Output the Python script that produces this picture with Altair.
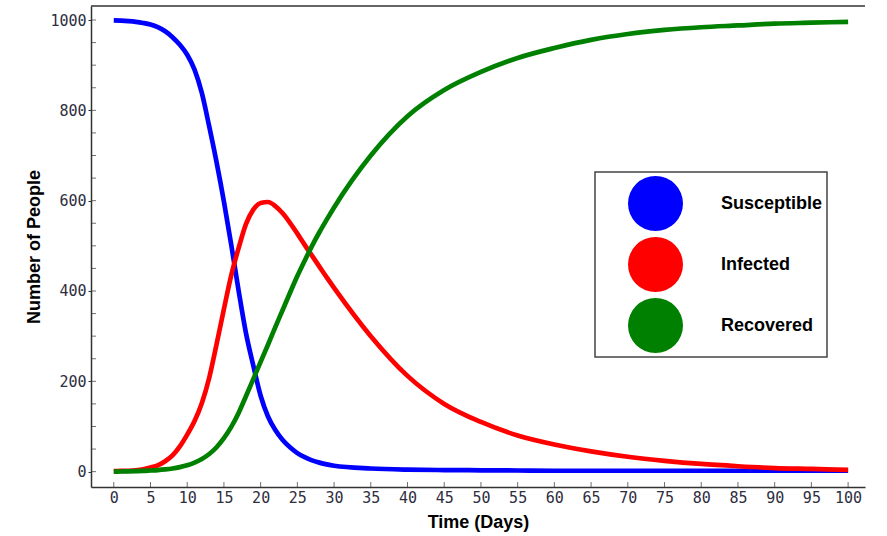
import altair as alt
import pandas as pd

# ---- data ----
days = list(range(0, 31)) + [35, 40, 45, 50, 55, 60, 65, 70, 75, 80, 85, 90, 95, 100]

susceptible = [999, 998.5, 997.5, 996, 993.5, 990, 984, 975, 962, 945,
               923, 890, 838, 764, 685, 598, 502, 401, 307, 235,
               168, 122, 92, 70, 54, 41, 32, 25, 20, 16,
               13,
               7, 4.5, 3.5, 3, 2.5, 2, 2, 2, 2, 2, 2, 2, 2, 2]

infected = [1, 1.5, 2, 3, 5, 9, 14, 23, 36, 56,
            82, 112, 152, 208, 282, 360, 435, 495, 548, 580,
            595, 597, 588, 572, 551, 527, 502, 478, 454, 430,
            407,
            300, 212, 150, 110, 80, 60, 45, 33, 24, 17, 12, 8, 6, 4]

recovered = [0, 0.3, 0.6, 1, 1.5, 2.5, 3.5, 5, 7, 10,
             14, 20, 28, 39, 54, 74, 99, 130, 167, 205,
             243, 281, 320, 358, 396, 433, 467, 500, 530, 558,
             585,
             700, 787, 845, 885, 916, 938, 956, 969, 978, 984, 988, 992, 994, 996]

series_names = ["Susceptible", "Infected", "Recovered"]
series_colors = ["#0000ff", "#ff0000", "#008000"]

x_ticks = list(range(0, 101, 5))
y_label_ticks = [0, 200, 400, 600, 800, 1000]
y_minor_ticks = list(range(0, 1001, 50))

rows = []
for name, vals in zip(series_names, [susceptible, infected, recovered]):
    for t, v in zip(days, vals):
        rows.append({"t": t, "value": v, "series": name})
df = pd.DataFrame(rows)

xtick_df = pd.DataFrame({"t": x_ticks})
ytick_df = pd.DataFrame({"value": y_minor_ticks})

W, H = 774, 481
xscale = alt.Scale(domain=[-3.1, 102.3], nice=False, zero=False)
yscale = alt.Scale(domain=[-34, 1031], nice=False, zero=False)
cscale = alt.Scale(domain=series_names, range=series_colors)

label_font = "DejaVu Sans Mono"
label_color = "#2e2e3e"
title_font = "Liberation Sans"

x_axis = alt.Axis(orient="bottom", values=x_ticks, ticks=False, grid=False,
                  title="Time (Days)", labelPadding=3, titlePadding=8,
                  labelOverlap=False, labelFlush=False,
                  labelFont=label_font, labelFontSize=15, labelColor=label_color,
                  titleFont=title_font, titleFontSize=18, titleFontWeight="bold",
                  titleColor="black", domainColor="#333", domainWidth=1.5)
y_axis = alt.Axis(orient="left", values=y_label_ticks, tickSize=3, grid=False,
                  tickColor="#333", tickWidth=1, format="d", labelOverlap=False,
                  title="Number of People", labelPadding=2, titlePadding=6,
                  labelFont=label_font, labelFontSize=15, labelColor=label_color,
                  titleFont=title_font, titleFontSize=18, titleFontWeight="bold",
                  titleColor="black", domainColor="#333", domainWidth=1.5)

lines = alt.Chart(df).mark_line(strokeWidth=4.7, interpolate="monotone").encode(
    x=alt.X("t:Q", scale=xscale, axis=x_axis),
    y=alt.Y("value:Q", scale=yscale, axis=y_axis),
    color=alt.Color("series:N", scale=cscale, legend=None),
)

legend_layer = alt.Chart(df).mark_circle(opacity=0, size=10).encode(
    x=alt.X("t:Q", scale=xscale, axis=x_axis),
    y=alt.Y("value:Q", scale=yscale, axis=y_axis),
    color=alt.Color("series:N", scale=cscale,
                    legend=alt.Legend(orient="none", legendX=504, legendY=166, title=None,
                                      symbolType="circle", symbolSize=3025, symbolOpacity=1,
                                      symbolStrokeWidth=0, symbolOffset=29,
                                      labelOffset=38, labelFont=title_font,
                                      labelFontWeight="bold", labelFontSize=18,
                                      labelColor="black", rowPadding=6, padding=4,
                                      strokeColor="#444", fillColor="white")),
)

x_inner_ticks = alt.Chart(xtick_df).mark_tick(orient="vertical", size=5, thickness=1, color="#333").encode(
    x=alt.X("t:Q", scale=xscale, axis=x_axis),
    y=alt.value(H - 2.5),
)

y_inner_ticks = alt.Chart(ytick_df).mark_tick(orient="horizontal", size=5, thickness=1, color="#333").encode(
    y=alt.Y("value:Q", scale=yscale, axis=y_axis),
    x=alt.value(2.5),
)

top_border = alt.Chart(pd.DataFrame({"k": [0]})).mark_rule(color="#333", strokeWidth=1.5).encode(
    x=alt.value(0), x2=alt.value(W), y=alt.value(0)
)

chart = alt.layer(lines, legend_layer, x_inner_ticks, y_inner_ticks, top_border).resolve_legend(
    color="independent"
).properties(
    width=W, height=H,
    autosize=alt.AutoSizeParams(type="none"),
    padding={"left": 91, "top": 6, "right": 22, "bottom": 49},
    background="white",
).configure_view(stroke=None).configure_legend(strokeWidth=1.5)

chart.save("out.html", embed_options={"renderer": "svg", "actions": False})
